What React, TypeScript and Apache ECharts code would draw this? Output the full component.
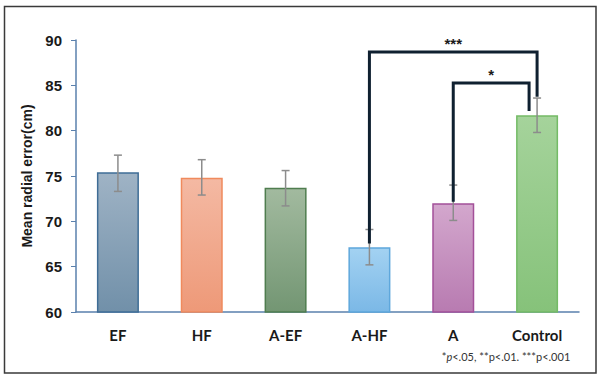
import React, { useEffect, useRef } from "react";
import * as echarts from "echarts";

const categories = ["EF", "HF", "A-EF", "A-HF", "A", "Control"];
const means = [75.4, 74.8, 73.7, 67.15, 72.0, 81.7];
const errLow = [73.3, 72.9, 71.7, 65.2, 70.1, 79.8];
const errHigh = [77.3, 76.8, 75.6, 69.1, 74.0, 83.6];
const yTicks = { min: 60, max: 90, interval: 5 };
// bracket: [fromIdx, toIdx, topValue, fromEndValue, toEndValue]
const brackets = [
  [3, 5, 88.67, 67.56, 83.73],
  [4, 5, 85.25, 72.16, 82.18],
];
const bracketLabels = ["***", "*"];
const bracketRightOffsets = [0, -8];

const topColors = ["#9fb3c5", "#f4b9a3", "#a2ba9f", "#a3d2f2", "#d3a7cd", "#a5d39b"];
const bottomColors = ["#7190a9", "#ee9978", "#739673", "#7bb8e6", "#b87bb1", "#86c27a"];
const borderColors = ["#3f6d96", "#f08a5d", "#4f7d4f", "#5ea7dc", "#a35099", "#74bb66"];

export default function App() {
  const ref = useRef<HTMLDivElement>(null);
  useEffect(() => {
    document.body.style.margin = "0";
    const chart = echarts.init(ref.current!, null, { renderer: "svg" });
    const barData = means.map((v, i) => ({
      value: v,
      itemStyle: {
        color: new echarts.graphic.LinearGradient(0, 0, 0, 1, [
          { offset: 0, color: topColors[i] },
          { offset: 1, color: bottomColors[i] },
        ]),
        borderColor: borderColors[i],
        borderWidth: 1.5,
      },
    }));
    const errData = categories.map((_, i) => [i, errLow[i], errHigh[i]]);
    const bracketData = brackets.map((b, i) => [...b, i]);
    chart.setOption({
      animation: false,
      grid: { left: 76, right: 21, top: 40, bottom: 68 },
      xAxis: {
        type: "category",
        data: categories,
        axisLine: { lineStyle: { color: "#5a80ad", width: 1.5 } },
        axisTick: { alignWithLabel: true, length: 5, lineStyle: { color: "#5a80ad" } },
        axisLabel: {
          color: "#1a1a1a",
          fontFamily: "Lato",
          fontWeight: "bold",
          fontSize: 15,
          margin: 15,
        },
      },
      yAxis: {
        type: "value",
        min: yTicks.min,
        max: yTicks.max,
        interval: yTicks.interval,
        name: "Mean radial error(cm)",
        nameLocation: "middle",
        nameGap: 37,
        nameTextStyle: {
          color: "#1a1a1a",
          fontFamily: "Liberation Sans",
          fontWeight: "bold",
          fontSize: 14,
        },
        splitLine: { show: false },
        axisLine: { show: true, lineStyle: { color: "#5a80ad", width: 1.5 } },
        axisTick: { show: true, length: 5, lineStyle: { color: "#5a80ad" } },
        axisLabel: {
          color: "#1a1a1a",
          fontFamily: "Liberation Sans",
          fontWeight: "bold",
          fontSize: 15,
          margin: 14,
        },
      },
      series: [
        {
          type: "bar",
          data: barData,
          barWidth: 42,
        },
        {
          type: "custom",
          data: errData,
          z: 5,
          renderItem: (params: any, api: any) => {
            const x = api.value(0);
            const lo = api.coord([x, api.value(1)]);
            const hi = api.coord([x, api.value(2)]);
            const cw = 4;
            const style = { stroke: "#8c8c8c", lineWidth: 1.5 };
            return {
              type: "group",
              children: [
                { type: "line", shape: { x1: hi[0], y1: hi[1], x2: lo[0], y2: lo[1] }, style },
                { type: "line", shape: { x1: hi[0] - cw, y1: hi[1], x2: hi[0] + cw, y2: hi[1] }, style },
                { type: "line", shape: { x1: lo[0] - cw, y1: lo[1], x2: lo[0] + cw, y2: lo[1] }, style },
              ],
            };
          },
        },
        {
          type: "custom",
          data: bracketData,
          z: 6,
          renderItem: (params: any, api: any) => {
            const i = api.value(5);
            const a = api.coord([api.value(0), api.value(2)]);
            const b = api.coord([api.value(1), api.value(2)]);
            const aEnd = api.coord([api.value(0), api.value(3)]);
            const bEnd = api.coord([api.value(1), api.value(4)]);
            const off = bracketRightOffsets[i];
            return {
              type: "group",
              children: [
                {
                  type: "polyline",
                  shape: {
                    points: [
                      [aEnd[0], aEnd[1]],
                      [a[0], a[1]],
                      [b[0] + off, b[1]],
                      [b[0] + off, bEnd[1]],
                    ],
                  },
                  style: { stroke: "#0f2030", lineWidth: 3, fill: null },
                },
                {
                  type: "text",
                  x: (a[0] + b[0] + off) / 2,
                  y: a[1] - 9,
                  style: {
                    text: bracketLabels[i],
                    fill: "#1a1a1a",
                    fontSize: 15,
                    fontWeight: "bold",
                    fontFamily: "Liberation Sans",
                    align: "center",
                    verticalAlign: "middle",
                  },
                },
              ],
            };
          },
        },
      ],
      graphic: [
        {
          type: "rect",
          shape: { x: 4.5, y: 6.5, width: 591.5, height: 366.5 },
          style: { fill: null, stroke: "#3a3a3a", lineWidth: 1.5 },
          silent: true,
        },
        {
          type: "text",
          x: 506,
          y: 356,
          style: {
            text: "*{i|p}<.05, **p<.01. ***p<.001",
            fill: "#333",
            fontSize: 11,
            fontFamily: "Lato",
            align: "center",
            verticalAlign: "middle",
            rich: { i: { fontStyle: "italic", fontSize: 11, fontFamily: "Lato", fill: "#333" } },
          },
        },
      ],
    });
    return () => chart.dispose();
  }, []);
  return <div ref={ref} style={{ width: 600, height: 380 }} />;
}
